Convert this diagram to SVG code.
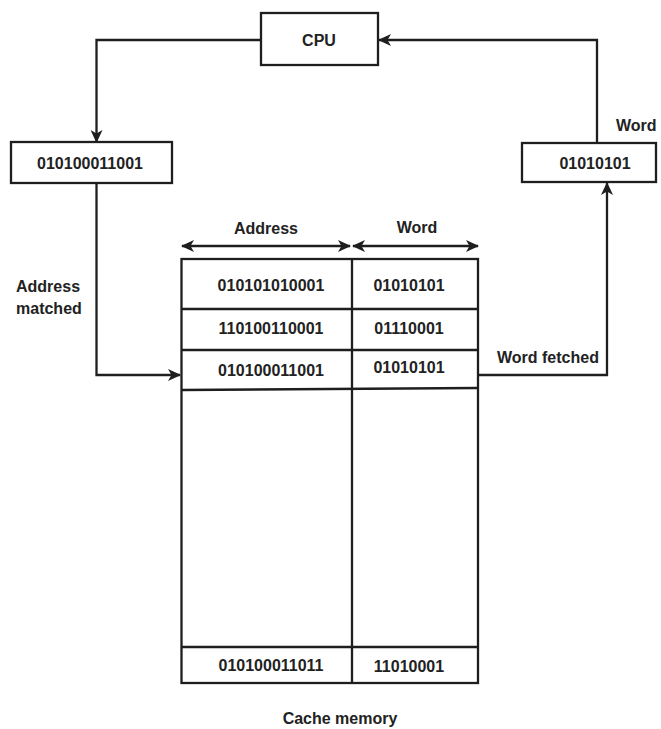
<svg xmlns="http://www.w3.org/2000/svg" width="661" height="729" viewBox="0 0 661 729">
  <defs>
    <style>
      .box { fill: #ffffff; stroke: #1e1e1e; stroke-width: 2.3; }
      .edge { fill: none; stroke: #1e1e1e; stroke-width: 2.3; }
      .t { font-family: "Liberation Sans", Arial, sans-serif; font-size: 16px; font-weight: bold; fill: #222222; }
      .c { text-anchor: middle; dominant-baseline: central; }
      .l { text-anchor: start; dominant-baseline: central; }
    </style>
    <marker id="arrow" viewBox="0 0 13 12" refX="12" refY="6" markerWidth="13" markerHeight="12" markerUnits="userSpaceOnUse" orient="auto-start-reverse">
      <path d="M0,0 L13,6 L0,12 L3.5,6 Z" fill="#1e1e1e"/>
    </marker>
  </defs>
  <rect width="661" height="729" fill="#ffffff"/>

  <!-- connectors -->
  <g id="connectors">
    <path class="edge" d="M261,40 H96.5 V142" marker-end="url(#arrow)"/>
    <path class="edge" d="M96.5,183 V375 H180" marker-end="url(#arrow)"/>
    <path class="edge" d="M597,143 V40 H379" marker-end="url(#arrow)"/>
    <path class="edge" d="M478,375 H607 V183" marker-end="url(#arrow)"/>
    <path class="edge" d="M182,246 H350" marker-start="url(#arrow)" marker-end="url(#arrow)"/>
    <path class="edge" d="M353,246 H478" marker-start="url(#arrow)" marker-end="url(#arrow)"/>
  </g>

  <!-- edge labels -->
  <g id="labels">
    <text class="t c" x="266" y="228">Address</text>
    <text class="t c" x="417" y="227">Word</text>
    <text class="t l" x="16" y="286">Address</text>
    <text class="t l" x="16" y="308">matched</text>
    <text class="t l" x="616" y="125">Word</text>
    <text class="t l" x="497" y="357">Word fetched</text>
  </g>

  <g id="cpu">
    <rect class="box" x="261" y="13" width="117" height="52"/>
    <text class="t c" x="319" y="40">CPU</text>
  </g>

  <g id="address-register">
    <rect class="box" x="11" y="142" width="161" height="41"/>
    <text class="t c" x="90" y="163">010100011001</text>
  </g>

  <g id="word-register">
    <rect class="box" x="522" y="143" width="134" height="39"/>
    <text class="t c" x="595" y="163">01010101</text>
  </g>

  <g id="cache-memory">
    <rect class="box" x="181.5" y="259" width="296.5" height="424"/>
    <path class="edge" d="M352,259 V683"/>
    <path class="edge" d="M181.5,309 H478"/>
    <path class="edge" d="M181.5,350 H478"/>
    <path class="edge" d="M181.5,390 L478,388"/>
    <path class="edge" d="M181.5,647 H478"/>
    <text class="t c" x="271" y="285">010101010001</text>
    <text class="t c" x="409" y="285">01010101</text>
    <text class="t c" x="271" y="328">110100110001</text>
    <text class="t c" x="409" y="328">01110001</text>
    <text class="t c" x="271" y="370">010100011001</text>
    <text class="t c" x="409" y="367">01010101</text>
    <text class="t c" x="271" y="665">010100011011</text>
    <text class="t c" x="409" y="666">11010001</text>
    <text class="t c" x="340" y="718">Cache memory</text>
  </g>
</svg>
